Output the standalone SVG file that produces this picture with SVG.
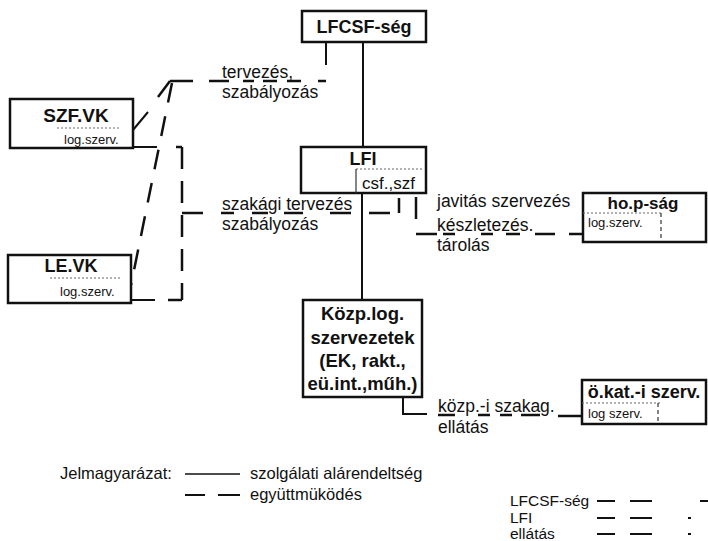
<svg xmlns="http://www.w3.org/2000/svg" width="708" height="541" viewBox="0 0 708 541">
<style>
.box{fill:#fff;stroke:#111;stroke-width:2.5}
.t{font-family:'Liberation Sans',Arial,sans-serif;fill:#111}
.title{font-size:18px;font-weight:bold;text-anchor:middle}
.body{font-size:17.5px}
.small{font-size:13px}
.leg{font-size:16.5px}
.leg2{font-size:15.5px}
.dot{stroke:#666;stroke-width:1;stroke-dasharray:2 2;fill:none}
.solid{stroke:#111;stroke-width:2;fill:none}
.dash{stroke:#111;stroke-width:2.5;fill:none}
.thin{stroke:#333;stroke-width:1.2;fill:none}
</style>
<rect width="708" height="541" fill="#fff"/>

<g id="connectors">
  <path class="solid" d="M363,42 V147 M362,193 V300 M326,42 V65 M403,397 V414 H427 M133,147 H157 M132,300 H155 M148,112 L133,130"/>
  <path class="dash" d="M170,81 H193 M209,81 H229 M243,81 H254 M263,81 H277 M287,81 H301 M318,81 H326 M170,81 L158,97"/>
  <path class="dash" d="M172,83 L131,285" stroke-dasharray="20 14"/>
  <path class="dash" d="M176,147 H182 M168,300 H182"/>
  <path class="dash" d="M182,147 V300" stroke-dasharray="22 12"/>
  <path class="dash" d="M182,213 H203 M221,213 H234 M252,213 H268 M284,213 H303 M330,213 H351 M369,213 H390 M399,213 V198"/>
  <path class="dash" d="M416,197 V219 M416,234 H437 M443,234 H455 M481,234 H493 M506,234 H520 M535,234 H555 M569,234 H583"/>
  <path class="dash" d="M438,415 H455 M478,415 H490 M500,415 H512 M521,415 H540 M558,416 H582"/>
  <text class="t body" x="222" y="78">tervezés,</text>
  <text class="t body" x="222" y="98">szabályozás</text>
  <text class="t body" x="222" y="210">szakági tervezés</text>
  <text class="t body" x="222" y="230">szabályozás</text>
  <text class="t body" x="437" y="207">javitás szervezés</text>
  <text class="t body" x="437" y="231">készletezés.</text>
  <text class="t body" x="437" y="251">tárolás</text>
  <text class="t body" x="438" y="412">közp.-i szakag.</text>
  <text class="t body" x="438" y="433">ellátás</text>
</g>

<g id="n-lfcsf">
  <rect class="box" x="302" y="11" width="124" height="31"/>
  <text class="t title" x="364" y="33">LFCSF-ség</text>
</g>

<g id="n-szfvk">
  <rect class="box" x="10" y="99" width="123" height="49"/>
  <text class="t title" x="76" y="122" style="font-size:19px">SZF.VK</text>
  <path class="dot" d="M57,128 H120"/>
  <text class="t small" x="64" y="144">log.szerv.</text>
</g>

<g id="n-lfi">
  <rect class="box" x="301" y="147" width="125" height="46"/>
  <text class="t title" x="363" y="165">LFI</text>
  <path class="dot" d="M356,169 H422"/>
  <path class="thin" d="M356,169 V193"/>
  <text class="t body" x="362" y="189" style="font-size:17px">csf.,szf</text>
</g>

<g id="n-hop">
  <rect class="box" x="583" y="193" width="123" height="49"/>
  <text class="t title" x="643" y="209" style="font-size:17px">ho.p-ság</text>
  <path class="dot" d="M583,213 H661"/>
  <path class="thin" d="M661,213 V240" stroke-dasharray="4 3"/>
  <text class="t small" x="588" y="227">log.szerv.</text>
</g>

<g id="n-levk">
  <rect class="box" x="8" y="255" width="123" height="48"/>
  <text class="t title" x="71" y="272">LE.VK</text>
  <path class="dot" d="M50,278 H122"/>
  <text class="t small" x="60" y="296">log.szerv.</text>
</g>

<g id="n-kozp">
  <rect class="box" x="303" y="300" width="119" height="97"/>
  <text class="t title" x="362.5" y="320" style="font-size:18.5px">Közp.log.</text>
  <text class="t title" x="362.5" y="344" style="font-size:18.5px">szervezetek</text>
  <text class="t title" x="362.5" y="367" style="font-size:18.5px">(EK, rakt.,</text>
  <text class="t title" x="362.5" y="390" style="font-size:18.5px">eü.int.,műh.)</text>
</g>

<g id="n-okat">
  <rect class="box" x="582" y="380" width="124" height="44"/>
  <text class="t title" x="644" y="398">ö.kat.-i szerv.</text>
  <path class="dot" d="M582,403 H660"/>
  <path class="thin" d="M658,403 V422" stroke-dasharray="4 3"/>
  <text class="t small" x="588" y="418">log szerv.</text>
</g>

<g id="legend">
  <text class="t leg" x="60" y="479">Jelmagyarázat:</text>
  <path class="solid" style="stroke-width:1.5" d="M185,474 H240"/>
  <text class="t leg" x="250" y="479">szolgálati alárendeltség</text>
  <path class="solid" d="M185,495 H205 M218,495 H240"/>
  <text class="t leg" x="250" y="500">együttmüködés</text>
  <text class="t leg2" x="510" y="506">LFCSF-ség</text>
  <path class="solid" d="M597,501 H615 M630,501 H652 M700,501 H708"/>
  <text class="t leg2" x="510" y="523">LFI</text>
  <path class="solid" d="M597,518 H615 M630,518 H652 M688,518 H691"/>
  <text class="t leg2" x="510" y="539">ellátás</text>
  <path class="solid" d="M597,534 H615 M630,534 H652 M688,534 H691"/>
</g>
</svg>
